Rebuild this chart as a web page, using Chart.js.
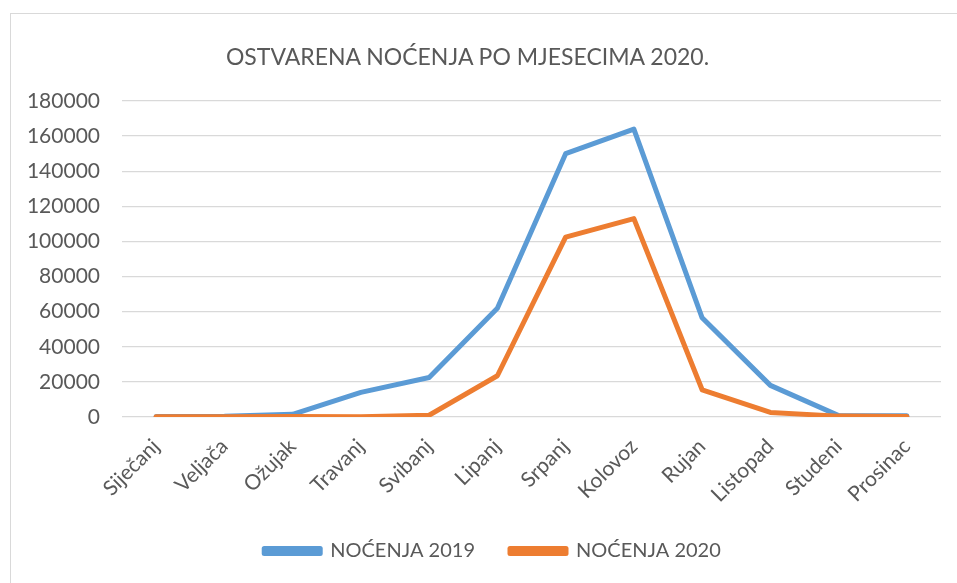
<!DOCTYPE html>
<html>
<head>
<meta charset="utf-8">
<script src="https://cdn.jsdelivr.net/npm/chart.js@4.4.1/dist/chart.umd.min.js"></script>
<style>
  html, body { margin: 0; padding: 0; background: #ffffff; overflow: hidden; }
  #wrap { position: absolute; left: 0; top: 0; width: 957px; height: 583px; }
  #frame { position: absolute; left: 10px; top: 13px; width: 960px; height: 600px; border: 1.5px solid #d9d9d9; box-sizing: border-box; }
  #title { position: absolute; left: 0; width: 935px; top: 41px; text-align: center; font-family: Lato, 'Open Sans', sans-serif; font-size: 23px; line-height: 30px; color: #595959; white-space: nowrap; }
  canvas { position: absolute; left: 0; top: 0; }
</style>
</head>
<body>
<div id="wrap">
  <div id="frame"></div>
  <canvas id="c" width="957" height="583"></canvas>
  <div id="title"></div>
</div>
<script>
const categories = ["Siječanj", "Veljača", "Ožujak", "Travanj", "Svibanj", "Lipanj", "Srpanj", "Kolovoz", "Rujan", "Listopad", "Studeni", "Prosinac"];
const nocenja2019 = [300, 400, 1500, 14000, 22500, 62000, 150000, 164000, 56500, 18000, 800, 700];
const nocenja2020 = [200, 200, 300, 200, 1000, 23500, 102500, 113000, 15500, 2600, 500, 300];
const yTicks = [0, 20000, 40000, 60000, 80000, 100000, 120000, 140000, 160000, 180000];
const titleText = "OSTVARENA NOĆENJA PO MJESECIMA 2020.";
const seriesNames = ["NOĆENJA 2019", "NOĆENJA 2020"];

document.getElementById("title").textContent = titleText;

const textColor = "#595959";
const fontFamily = "Lato, 'Open Sans', sans-serif";

// shift the legend a little to the right, as in the reference
const legendShift = {
  id: "legendShift",
  afterLayout(chart) {
    if (chart.legend) {
      chart.legend.left += 17;
      chart.legend.right += 17;
    }
  }
};

new Chart(document.getElementById("c"), {
  type: "line",
  data: {
    labels: categories,
    datasets: [
      {
        label: seriesNames[0],
        data: nocenja2019,
        borderColor: "#5B9BD5",
        backgroundColor: "#5B9BD5",
        borderWidth: 5,
        order: 1
      },
      {
        label: seriesNames[1],
        data: nocenja2020,
        borderColor: "#ED7D31",
        backgroundColor: "#ED7D31",
        borderWidth: 5,
        order: 0
      }
    ]
  },
  plugins: [legendShift],
  options: {
    responsive: false,
    animation: false,
    devicePixelRatio: 1,
    layout: { padding: { left: 10, right: 16, top: 101, bottom: 12 } },
    elements: {
      line: { tension: 0, borderCapStyle: "round", borderJoinStyle: "round", fill: false },
      point: { radius: 0, hoverRadius: 0 }
    },
    plugins: {
      title: { display: false },
      legend: {
        position: "bottom",
        labels: {
          color: textColor,
          font: { family: fontFamily, size: 20 },
          boxWidth: 56,
          boxHeight: 5,
          padding: 35,
          sort: (a, b) => a.datasetIndex - b.datasetIndex
        }
      },
      tooltip: { enabled: false }
    },
    scales: {
      x: {
        offset: true,
        grid: { display: false, drawTicks: false },
        border: { display: false },
        ticks: {
          color: textColor,
          font: { family: fontFamily, size: 21 },
          minRotation: 45,
          maxRotation: 45,
          padding: 17
        },
        afterFit: (s) => { s.height = 89; }
      },
      y: {
        min: 0,
        max: 180000,
        afterBuildTicks: (s) => { s.ticks = yTicks.map(v => ({ value: v })); },
        grid: { color: "#d9d9d9", lineWidth: 1.3, drawTicks: false },
        border: { display: false },
        ticks: {
          color: textColor,
          font: { family: fontFamily, size: 21 },
          padding: 22,
          callback: (v) => String(v)
        },
        afterFit: (s) => { s.width = 112; }
      }
    }
  }
});
</script>
</body>
</html>
